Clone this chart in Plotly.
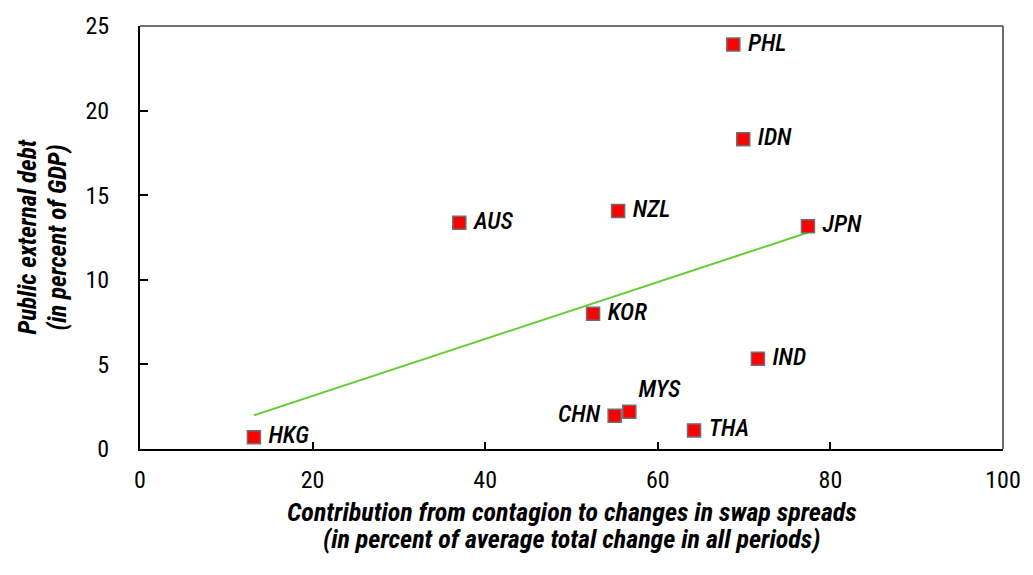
import numpy as np
import plotly.graph_objects as go

# Data
countries = ["HKG", "AUS", "KOR", "CHN", "NZL", "MYS", "THA", "PHL", "IDN", "IND", "JPN"]
contagion = [13.2, 37.0, 52.5, 55.0, 55.4, 56.7, 64.2, 68.75, 69.9, 71.6, 77.4]
debt = [0.7, 13.37, 8.0, 1.96, 14.06, 2.2, 1.1, 23.9, 18.3, 5.34, 13.16]
label_pos = ["middle right", "middle right", "middle right", "middle left", "middle right",
             "top right", "middle right", "middle right", "middle right", "middle right", "middle right"]

x_ticks = [0, 20, 40, 60, 80, 100]
y_ticks = [0, 5, 10, 15, 20, 25]

x_title = ["Contribution from contagion to changes in swap spreads",
           "(in percent of average total change in all periods)"]
y_title = ["Public external debt", "(in percent of GDP)"]

FONT = "Roboto Condensed, Open Sans, sans-serif"
NBSP = "\u00a0"

# padded label text (gap between marker and label)
label_text = []
for c, p in zip(countries, label_pos):
    if p == "middle right":
        label_text.append(NBSP + c)
    elif p == "middle left":
        label_text.append(c + NBSP)
    else:
        label_text.append(c)

# OLS trend line across the data range
slope, intercept = np.polyfit(contagion, debt, 1)
trend_x = np.array([min(contagion), max(contagion)])
trend_y = slope * trend_x + intercept

fig = go.Figure()
fig.add_trace(go.Scatter(
    x=trend_x, y=trend_y, mode="lines",
    line=dict(color="#66CC33", width=2), hoverinfo="skip", showlegend=False))
fig.add_trace(go.Scatter(
    x=contagion, y=debt, mode="markers+text", text=label_text,
    textposition=label_pos,
    textfont=dict(family=FONT, size=24, color="black", style="italic", weight=500),
    marker=dict(symbol="square", size=13, color="#FF0000",
                line=dict(color="#6E6E6E", width=1.5)),
    showlegend=False))

axis_common = dict(
    showgrid=False, zeroline=False, showline=True, linecolor="black", linewidth=2,
    ticks="inside", tickcolor="black", tickwidth=1.5,
    tickfont=dict(family=FONT, size=24, color="black"),
)
fig.update_xaxes(range=[0, 100], tickvals=x_ticks, ticklen=7, ticklabelstandoff=8, **axis_common)
fig.update_yaxes(range=[0, 25], tickvals=y_ticks, ticklen=8, ticklabelstandoff=24, **axis_common)

x_title_font = dict(family=FONT, size=26, color="black", weight="bold", style="italic")
y_title_font = dict(family=FONT, size=25, color="black", weight="bold", style="italic")
annotations = []
for line, yy in zip(x_title, [-0.148, -0.2135]):
    annotations.append(dict(text=line, xref="paper", yref="paper", x=0.5, y=yy,
                            xanchor="center", yanchor="middle", showarrow=False, font=x_title_font))
for line, xx in zip(y_title, [-0.1308, -0.0961]):
    annotations.append(dict(text=line, xref="paper", yref="paper", x=xx, y=0.5,
                            xanchor="center", yanchor="middle", textangle=-90,
                            showarrow=False, font=y_title_font))

fig.update_layout(
    width=1033, height=575,
    margin=dict(l=140, r=29, t=16, b=126),
    paper_bgcolor="white", plot_bgcolor="white",
    shapes=[
        dict(type="line", xref="paper", yref="paper", x0=0, x1=1, y0=1, y1=1,
             line=dict(color="#404040", width=1.5)),
        dict(type="line", xref="paper", yref="paper", x0=1, x1=1, y0=0, y1=1,
             line=dict(color="#404040", width=1.5)),
    ],
    annotations=annotations,
)

fig.write_html("out.html", config={"displayModeBar": False},
               post_script="document.body.style.margin='0';")
